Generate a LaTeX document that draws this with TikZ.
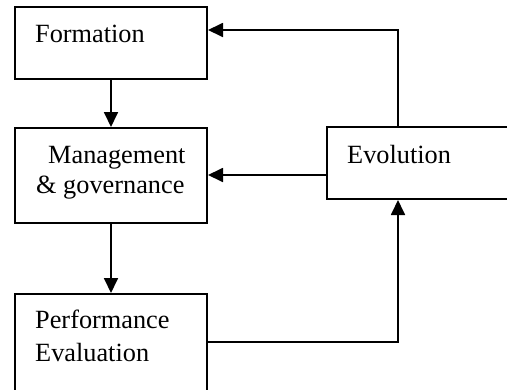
\documentclass[tikz,border=0pt]{standalone}
\usepackage{fontspec}
\setmainfont{Liberation Serif}
\usetikzlibrary{arrows.meta}
\tikzset{
  box/.style={draw, line width=2pt, rectangle, inner sep=0pt, anchor=north west},
  lbl/.style={anchor=base west, inner sep=0pt, font=\fontsize{26.3}{30}\selectfont},
  arr/.style={line width=1.8pt, -{Triangle[length=15pt,width=14pt]}},
  conn/.style={line width=1.8pt}
}
\begin{document}
\begin{tikzpicture}[x=1pt,y=-1pt]
\useasboundingbox (0,0) rectangle (507,389);
\clip (0,0) rectangle (507,389);
\node[box, minimum width=192pt, minimum height=72pt] (form) at (14,6) {};
\node[box, minimum width=192pt, minimum height=95pt] (mgmt) at (14,127) {};
\node[box, minimum width=192pt, minimum height=110pt] (perf) at (14,293) {};
\node[box, minimum width=194pt, minimum height=72pt] (evol) at (326,126) {};
\node[lbl] (tform) at (35,42) {Formation};
\node[lbl] (tmgmt1) at (48,163) {Management};
\node[lbl] (tmgmt2) at (36,193) {\& governance};
\node[lbl] (tperf1) at (35,328) {Performance};
\node[lbl] (tperf2) at (35,361) {Evaluation};
\node[lbl] (tevol) at (347,163) {Evolution};
\draw[arr] (form.south) -- (mgmt.north);
\draw[arr] (mgmt.south) -- (perf.north);
\draw[arr] ([xshift=72pt]evol.north west) |- ([yshift=-24pt]form.north east);
\draw[arr] ([yshift=0.5pt]evol.west |- mgmt.east) -- ([yshift=0.5pt]mgmt.east);
\draw[arr] ([yshift=-49pt]perf.north east) -| ([xshift=72pt]evol.south west);
\end{tikzpicture}
\end{document}
